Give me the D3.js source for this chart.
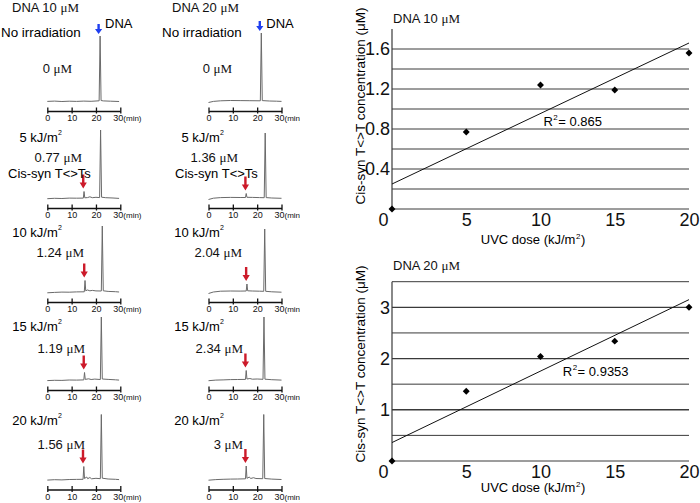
<!DOCTYPE html>
<html lang="en">
<head>
<meta charset="UTF-8">
<title>Cis-syn T&lt;&gt;T formation by UVC</title>
<style>
  body { margin: 0; background: #fff; }
  svg { display: block; font-family: "Liberation Sans", Arial, sans-serif; }
  .mu { font-family: "Liberation Serif", "DejaVu Serif", serif; }
</style>
</head>
<body>
<script src="https://d3js.org/d3.v7.min.js"></script>
<script>
  // ---- data ----
  const doses = [0, 5, 10, 15, 20];               // UVC dose, kJ/m2
  const conc10 = [0, 0.77, 1.24, 1.19, 1.56];     // T<>T, uM (DNA 10 uM)
  const conc20 = [0, 1.36, 2.04, 2.34, 3];        // T<>T, uM (DNA 20 uM)
  const trend10 = [[0, 0.25], [20, 1.66]];
  const trend20 = [[0, 0.36], [20, 3.15]];
  const r2Values = ["0.865", "0.9353"];
  const xTicks = [0, 5, 10, 15, 20];
  const yTicks10 = [0.4, 0.8, 1.2, 1.6];
  const grid10 = [0, 0.2, 0.4, 0.6, 0.8, 1.0, 1.2, 1.4, 1.6];
  const yTicks20 = [1, 2, 3];
  const grid20 = [0, 0.5, 1, 1.5, 2, 2.5, 3, 3.5];
  const timeTicks = [0, 10, 20, 30];

  // HPLC traces, [retention time (min), signal]
  const traces10 = [
    [[0,0.6],[3,0.9],[6,0.5],[9,0.8],[12,0.6],[15,0.9],[18,0.7],[21.3,1.2],[21.7,66],[22.1,1.5],[23,1.1],[26,0.8],[29.5,0.5]],
    [[0,0.3],[3,0.7],[6,0.5],[9,0.9],[12,0.8],[14.8,0.9],[15.1,7.5],[15.4,1.2],[16.5,1.4],[17.5,2.2],[18.5,1.3],[20,1.7],[21.5,1.4],[21.9,69],[22.3,1.8],[24,1.3],[27,1.0],[29.5,0.6]],
    [[0,0.2],[3,0.6],[6,0.9],[9,0.8],[12,1.1],[15.2,1.2],[15.5,12.5],[15.8,2.2],[16.5,3],[17.5,2.2],[18.5,2.6],[20,2.1],[22.2,2],[22.6,67],[23,2.2],[25,1.6],[28,1.3],[29.5,1]],
    [[0,0.4],[3,0.7],[6,0.6],[9,1],[12,0.9],[15,1.1],[15.3,8.5],[15.6,1.6],[17,2.2],[18,1.5],[19.5,1.9],[21.8,1.5],[22.2,64],[22.6,2],[25,1.6],[28,1.2],[29.5,0.9]],
    [[0,0.4],[3,0.8],[6,0.6],[9,1],[12,1.1],[14.7,1.2],[15,14],[15.3,2],[16.2,3.5],[16.6,1.8],[17.5,3],[18.2,1.7],[20,2.2],[21.8,1.8],[22.2,66],[22.6,2.3],[25,1.5],[28,1.2],[29.5,0.9]]
  ];
  const traces20 = [
    [[0,-0.5],[2,0.6],[5,1.2],[9,1.5],[13,1.4],[17,1.3],[21.3,1.2],[21.7,69],[22.1,1.4],[25,1],[28,0.8],[30,0.6]],
    [[0,-0.5],[2,0.8],[5,1.4],[9,1.6],[13,1.5],[15.2,1.5],[15.5,5.5],[15.8,1.7],[18,1.6],[21,1.4],[22.9,1.3],[23.3,66],[23.7,1.4],[26,1],[30,0.7]],
    [[0,-0.5],[2,1],[5,1.8],[9,2],[13,1.9],[15.5,2],[15.8,9],[16.1,2.2],[18,2],[21,1.8],[22.7,1.7],[23.1,64],[23.5,1.7],[26,1.2],[30,0.8]],
    [[0,0.3],[3,0.9],[6,1.1],[9,1.4],[12,1.5],[15.2,1.6],[15.5,10.5],[15.8,2],[17,2.5],[18,1.8],[20,2],[22.4,1.7],[22.8,64],[23.2,1.8],[26,1.3],[30,0.9]],
    [[0,0.3],[3,0.9],[6,1.2],[9,1.4],[12,1.5],[15.2,1.7],[15.5,14.5],[15.8,2.2],[16.8,3.5],[17.3,2],[18.5,2.8],[19.5,2],[22.3,1.8],[22.7,66],[23.1,2],[26,1.4],[30,1]]
  ];

  // ---- layout ----
  const W = 700, H = 503;
  const red = "#cc1a2a", blue = "#1f3ff0";
  const axisY = [111, 208, 302, 390, 489.5];
  const doseY = [0, 141.7, 237, 330.5, 425];
  const concY = [73, 162, 256.7, 353, 449];
  const cols = [
    { x0: 47.3, header: "DNA 10 ", headX: 12, noIrrX: 1, doseEnd: 62, concEnd: [72, 82, 84, 85, 85], cisX: 8, conc: conc10, traces: traces10 },
    { x0: 208.5, header: "DNA 20 ", headX: 172, noIrrX: 162, doseEnd: 224, concEnd: [232, 238, 242, 243, 243], cisX: 175, conc: conc20, traces: traces20 }
  ];

  const svg = d3.select("body").append("svg")
    .attr("width", W)
    .attr("height", H);

  svg.append("defs").append("clipPath").attr("id", "midclip")
    .append("rect").attr("x", 150).attr("y", 0).attr("width", 150).attr("height", H);

  const muText = (g, x, y, prefix, anchor, size) => {
    const t = g.append("text").attr("x", x).attr("y", y)
      .attr("text-anchor", anchor).attr("font-size", size).attr("fill", "#111");
    t.append("tspan").text(prefix);
    t.append("tspan").attr("class", "mu").text("\u03bcM");
    return t;
  };

  const arrow = (g, x, yTip, len, head, color) => {
    const p = `M${x - 1.2},${yTip - len} L${x + 1.2},${yTip - len} L${x + 1.2},${yTip - head}` +
      ` L${x + 3.6},${yTip - head} L${x},${yTip} L${x - 3.6},${yTip - head} L${x - 1.2},${yTip - head} Z`;
    g.append("path").attr("d", p).attr("fill", color);
  };

  // ---- chromatogram columns ----
  cols.forEach((c, ci) => {
    const g = svg.append("g");
    if (ci === 1) g.attr("clip-path", "url(#midclip)");

    muText(g, c.headX, 11.7, c.header, "start", 13);
    g.append("text").attr("x", c.noIrrX).attr("y", 37.3).attr("font-size", 13.4).text("No irradiation");

    c.traces.forEach((tr, i) => {
      const xs = d3.scaleLinear().domain([0, 30]).range([c.x0, c.x0 + 73]);
      const ys = d3.scaleLinear().domain([0, 70]).range([axisY[i] - 9, axisY[i] - 79]);

      g.append("path").datum(tr)
        .attr("d", d3.line().x(d => xs(d[0])).y(d => ys(d[1])))
        .attr("fill", "none")
        .attr("stroke", "#6a6a6a")
        .attr("stroke-width", 1);

      const ax = g.append("g")
        .attr("transform", `translate(0,${axisY[i]})`)
        .call(d3.axisBottom(xs).tickValues(timeTicks).tickSizeInner(3).tickSizeOuter(0).tickPadding(1));
      ax.select(".domain").attr("stroke", "#111").attr("stroke-width", 1.6);
      ax.selectAll(".tick line").attr("y1", -3.5).attr("y2", 2.5).attr("stroke", "#111").attr("stroke-width", 1.3);
      ax.selectAll(".tick text").attr("font-size", 9).attr("font-family", "Liberation Sans, Arial, sans-serif")
        .attr("fill", "#111").attr("dx", d => (d === 30 ? -2.5 : 0));
      g.append("text").attr("x", xs(30) + 3).attr("y", axisY[i] + 10.4)
        .attr("font-size", 8).attr("fill", "#111").text("(min)");

      // concentration label
      muText(g, c.concEnd[i], concY[i], c.conc[i] + " ", "end", 13);

      if (i === 0) {
        const dna = tr.reduce((a, b) => (b[1] > a[1] ? b : a));
        arrow(g, xs(dna[0]) - 1.5, ys(dna[1]) - 2, 10, 5, blue);
        g.append("text").attr("x", xs(dna[0]) + 5).attr("y", 28.3).attr("font-size", 13).text("DNA");
      } else {
        const dl = g.append("text").attr("x", c.doseEnd).attr("y", doseY[i])
          .attr("text-anchor", "end").attr("font-size", 13);
        dl.append("tspan").text(doses[i] + " kJ/m");
        dl.append("tspan").attr("font-size", 7).attr("dx", 0.3).attr("dy", -7).text("2");
        const ttt = tr.filter(d => d[0] < 20).reduce((a, b) => (b[1] > a[1] ? b : a));
        arrow(g, xs(ttt[0]) - 0.8, ys(ttt[1]) - 3, 14, 6, red);
      }
    });

    g.append("text").attr("x", c.cisX).attr("y", 178).attr("font-size", 13).text("Cis-syn T<>Ts");
  });

  // ---- dose-response charts ----
  function dosePlot(top, bottom, yMax, conc, trend, grid, ticks, major, title, titleY, r2, r2At, titleCenter, xTitleY) {
    const x = d3.scaleLinear().domain([0, 20]).range([392, 689]);
    const y = d3.scaleLinear().domain([0, yMax]).range([bottom, top]);
    const g = svg.append("g");

    g.selectAll("line.grid").data(grid).enter().append("line")
      .attr("class", "grid")
      .attr("x1", x(0)).attr("x2", x(20))
      .attr("y1", d => y(d)).attr("y2", d => y(d))
      .attr("stroke", "#3a3a3a")
      .attr("stroke-width", d => (major.includes(d) ? 1.3 : 1));
    g.append("line").attr("x1", x(0)).attr("x2", x(0)).attr("y1", y(yMax)).attr("y2", y(0))
      .attr("stroke", "#3a3a3a").attr("stroke-width", 1.2);

    const yAx = g.append("g").attr("transform", `translate(${x(0)},0)`)
      .call(d3.axisLeft(y).tickValues(ticks).tickFormat(d => String(d)).tickSize(0).tickPadding(2));
    yAx.select(".domain").remove();
    yAx.selectAll("text").attr("font-size", 18).attr("fill", "#111")
      .attr("font-family", "Liberation Sans, Arial, sans-serif");

    const xAx = g.append("g").attr("transform", `translate(0,${y(0)})`)
      .call(d3.axisBottom(x).tickValues(xTicks).tickSize(0).tickPadding(4));
    xAx.select(".domain").remove();
    xAx.selectAll("text").attr("font-size", 18).attr("fill", "#111")
      .attr("font-family", "Liberation Sans, Arial, sans-serif")
      .attr("dx", d => (d === 0 ? -9 : 0));

    g.append("path").datum(trend)
      .attr("d", d3.line().x(d => x(d[0])).y(d => y(d[1])))
      .attr("stroke", "#111").attr("stroke-width", 1).attr("fill", "none");

    g.selectAll("path.pt").data(doses).enter().append("path")
      .attr("class", "pt")
      .attr("d", d3.symbol().type(d3.symbolSquare).size(24))
      .attr("transform", (d, i) => `translate(${x(d)},${y(conc[i])}) rotate(45)`)
      .attr("fill", "#000");

    muText(g, 393, titleY, title, "start", 13);

    const r = g.append("text").attr("x", x(r2At[0])).attr("y", y(r2At[1])).attr("font-size", 13);
    r.append("tspan").text("R");
    r.append("tspan").attr("font-size", 8).attr("dx", 0.5).attr("dy", -6).text("2");
    r.append("tspan").attr("dx", 0.5).attr("dy", 6).text("= " + r2);

    const xt = g.append("text").attr("x", 533).attr("y", xTitleY).attr("text-anchor", "middle").attr("font-size", 13);
    xt.append("tspan").text("UVC dose (kJ/m");
    xt.append("tspan").attr("font-size", 8).attr("dx", 0.5).attr("dy", -5).text("2");
    xt.append("tspan").attr("dx", 0.5).attr("dy", 5).text(")");

    g.append("text")
      .attr("transform", `translate(365,${titleCenter}) rotate(-90)`)
      .attr("text-anchor", "middle").attr("font-size", 13.5)
      .text("Cis-syn T<>T concentration (\u03bcM)");
  }

  dosePlot(29, 209, 1.8, conc10, trend10, grid10, yTicks10, [], "DNA 10 ", 23.3, r2Values[0], [10.2, 0.83], 106, 243.5);
  dosePlot(281.7, 461, 3.5, conc20, trend20, grid20, yTicks20, [1, 2, 3], "DNA 20 ", 270, r2Values[1], [11.5, 1.66], 364, 492);
</script>
</body>
</html>
